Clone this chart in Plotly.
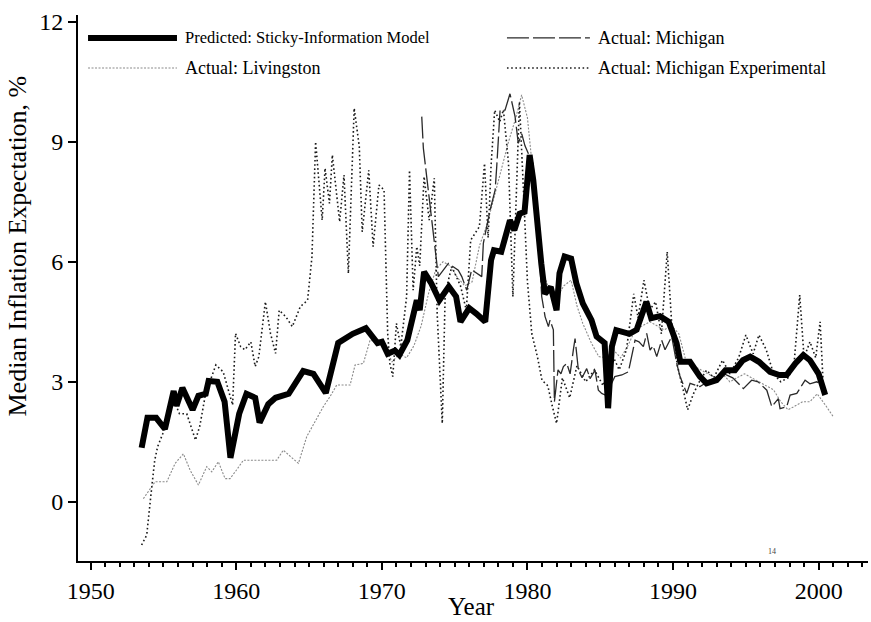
import plotly.graph_objects as go

# ---------------- data ----------------
sticky_years = [1953.5, 1953.9, 1954.5, 1955.1, 1955.7, 1955.9, 1956.3, 1957.0, 1957.4, 1957.9,
                1958.1, 1958.7, 1959.2, 1959.6, 1960.2, 1960.7, 1961.3, 1961.6, 1962.2, 1962.7,
                1963.6, 1964.6, 1965.3, 1966.15, 1967.0, 1967.5, 1968.0, 1968.9, 1969.7, 1970.0,
                1970.4, 1970.9, 1971.2, 1971.75, 1972.2, 1972.4, 1972.6, 1972.9, 1973.4, 1973.95,
                1974.6, 1975.1, 1975.4, 1976.0, 1976.5, 1977.1, 1977.5, 1977.7, 1978.2, 1978.5,
                1978.8, 1979.1, 1979.46, 1979.8, 1980.15, 1980.4, 1980.6, 1980.95, 1981.2, 1981.6,
                1982.0, 1982.2, 1982.55, 1983.0, 1983.36, 1983.8, 1984.4, 1984.75, 1985.3, 1985.54,
                1985.8, 1986.1, 1987.0, 1987.5, 1988.17, 1988.5, 1989.1, 1989.7, 1990.24, 1990.5,
                1991.16, 1991.85, 1992.3, 1992.99, 1993.6, 1994.25, 1994.8, 1995.3, 1995.9, 1996.66,
                1997.3, 1997.8, 1998.4, 1998.95, 1999.4, 2000.0, 2000.45]
sticky_vals = [1.35, 2.1, 2.1, 1.82, 2.77, 2.4, 2.85, 2.3, 2.65, 2.7,
               3.02, 3.0, 2.5, 1.1, 2.2, 2.7, 2.6, 1.98, 2.44, 2.6,
               2.7, 3.27, 3.2, 2.72, 3.97, 4.1, 4.2, 4.34, 3.97, 4.0,
               3.7, 3.78, 3.67, 4.04, 4.71, 5.04, 4.79, 5.75, 5.46, 5.04,
               5.38, 5.13, 4.5, 4.84, 4.7, 4.5, 6.04, 6.29, 6.25, 6.63,
               7.04, 6.79, 7.2, 7.25, 8.67, 8.04, 7.2, 5.96, 5.2, 5.37,
               4.79, 5.71, 6.13, 6.08, 5.46, 4.96, 4.54, 4.13, 3.97, 2.34,
               3.88, 4.29, 4.2, 4.3, 5.0, 4.59, 4.64, 4.5, 3.97, 3.5,
               3.5, 3.13, 2.96, 3.04, 3.29, 3.29, 3.54, 3.63, 3.5, 3.25,
               3.17, 3.17, 3.46, 3.67, 3.54, 3.2, 2.67]

mich_years = [1972.74, 1972.85, 1973.08, 1973.31, 1973.43, 1973.65, 1973.88, 1974.22, 1974.57, 1975.25,
              1975.49, 1975.83, 1976.17, 1976.86, 1976.97, 1977.43, 1977.78, 1977.89, 1978.12, 1978.46,
              1978.8, 1979.15, 1979.37, 1979.61, 1979.83, 1980.06, 1980.38, 1980.66, 1980.98, 1981.21,
              1981.44, 1981.55, 1981.78, 1981.85, 1982.1, 1982.3, 1982.47, 1982.7, 1982.93, 1983.15,
              1983.27, 1983.5, 1983.75, 1984.07, 1984.3, 1984.64, 1984.87, 1985.1, 1985.33, 1985.7,
              1986.0, 1986.48, 1986.93, 1987.39, 1987.66, 1987.96, 1988.19, 1988.42, 1988.63, 1988.88,
              1989.22, 1989.45, 1989.91, 1990.25, 1990.48, 1990.94, 1991.17, 1991.85, 1992.54, 1993.45,
              1994.1, 1994.83, 1995.4, 1995.84, 1996.44, 1996.78, 1997.23, 1997.35, 1997.81, 1998.04,
              1998.5, 1999.07, 1999.4, 1999.87, 2000.4]
mich_vals = [9.63, 8.84, 8.13, 7.38, 7.13, 6.29, 5.63, 5.79, 5.96, 5.79,
             5.63, 5.29, 5.8, 5.63, 6.46, 7.29, 7.79, 8.38, 9.79, 9.79,
             10.2, 9.63, 8.96, 9.2, 8.9, 8.71, 8.46, 7.2, 5.13, 4.63,
             4.38, 4.54, 4.3, 2.5, 3.3, 3.2, 3.38, 3.46, 3.2, 3.79,
             4.08, 3.29, 3.1, 3.33, 3.08, 3.29, 2.79, 2.71, 2.67, 2.9,
             3.13, 3.17, 3.25, 4.04, 4.0, 3.88, 4.21, 3.79, 3.9, 3.63,
             4.04, 3.8, 4.13, 3.46, 3.13, 2.71, 2.96, 2.88, 3.04, 3.21,
             3.1, 2.83, 3.04, 3.0, 2.79, 2.38, 2.58, 2.33, 2.38, 2.67,
             2.71, 3.04, 2.95, 3.0, 2.9]

liv_years = [1953.62, 1954.42, 1955.23, 1955.8, 1956.37, 1956.83, 1957.4, 1957.97, 1958.32, 1958.77,
             1959.23, 1959.57, 1960.03, 1960.49, 1961.63, 1962.78, 1963.23, 1964.27, 1964.84, 1965.3,
             1965.98, 1966.44, 1966.9, 1967.82, 1968.16, 1968.73, 1969.19, 1969.7, 1970.2, 1970.7,
             1971.2, 1971.7, 1972.2, 1972.7, 1973.2, 1973.7, 1974.2, 1974.7, 1975.2, 1975.7,
             1976.2, 1976.7, 1977.2, 1977.7, 1978.2, 1978.7, 1979.2, 1979.6, 1980.0, 1980.3,
             1980.7, 1981.1, 1981.5, 1982.0, 1982.5, 1983.0, 1983.4, 1983.8, 1984.4, 1984.9,
             1985.4, 1985.9, 1986.4, 1986.9, 1987.4, 1987.9, 1988.4, 1988.9, 1989.4, 1989.9,
             1990.4, 1990.9, 1991.4, 1991.9, 1992.4, 1992.9, 1993.4, 1993.9, 1994.4, 1994.9,
             1995.4, 1995.9, 1996.4, 1996.9, 1997.4, 1997.9, 1998.4, 1998.9, 1999.4, 1999.9,
             2000.5, 2001.0]
liv_vals = [0.08, 0.5, 0.5, 0.96, 1.2, 0.79, 0.42, 0.88, 0.75, 1.0,
            0.58, 0.58, 0.8, 1.04, 1.04, 1.04, 1.29, 0.96, 1.63, 1.92,
            2.38, 2.63, 2.92, 2.92, 3.42, 3.46, 4.04, 4.0, 3.9, 3.5,
            3.7, 3.6, 3.9, 4.4, 5.2, 5.8, 6.0, 5.9, 5.6, 5.4,
            5.5, 6.4, 6.9, 7.6, 8.3, 9.0, 9.6, 10.17, 9.6, 8.5,
            6.5, 5.7, 5.3, 5.1, 5.4, 5.54, 4.9, 4.46, 3.96, 3.63,
            3.6, 3.8, 3.6, 3.9, 4.3, 4.4, 4.5, 4.4, 4.3, 4.4,
            4.2, 3.5, 3.4, 3.3, 3.2, 3.1, 3.2, 3.0, 3.1, 3.2,
            3.1, 3.0, 2.9, 2.8, 2.5, 2.3, 2.4, 2.5, 2.5, 2.7,
            2.4, 2.13]

mexp_years = [1953.5, 1953.85, 1954.2, 1954.4, 1954.6, 1954.95, 1955.3, 1955.7, 1956.1, 1956.6,
              1957.2, 1957.5, 1957.9, 1958.6, 1959.1, 1959.5, 1959.75, 1959.95, 1960.3, 1960.6,
              1961.0, 1961.3, 1961.55, 1962.0, 1962.35, 1962.7, 1962.95, 1963.4, 1963.85, 1964.4,
              1964.9, 1965.2, 1965.45, 1965.9, 1966.1, 1966.4, 1966.6, 1967.1, 1967.4, 1967.7,
              1968.1, 1968.45, 1968.65, 1969.1, 1969.4, 1969.8, 1970.15, 1970.4, 1970.55, 1970.75,
              1971.0, 1971.3, 1971.7, 1971.9, 1972.15, 1972.4, 1972.6, 1972.9, 1973.25, 1973.6,
              1973.8, 1974.15, 1974.35, 1974.8, 1975.4, 1975.8, 1976.1, 1976.7, 1977.05, 1977.3,
              1977.5, 1977.75, 1978.1, 1978.35, 1978.7, 1979.0, 1979.2, 1979.45, 1979.7, 1980.0,
              1980.3, 1980.7, 1981.0, 1981.4, 1981.7, 1982.0, 1982.4, 1982.9, 1983.4, 1984.0,
              1984.6, 1985.2, 1985.8, 1986.3, 1986.8, 1987.3, 1987.6, 1988.0, 1988.4, 1988.8,
              1989.2, 1989.6, 1989.9, 1990.3, 1990.7, 1991.0, 1991.4, 1991.8, 1992.3, 1992.8,
              1993.4, 1993.9, 1994.5, 1995.0, 1995.5, 1995.9, 1996.4, 1996.9, 1997.4, 1997.9,
              1998.3, 1998.7, 1999.0, 1999.4, 1999.8, 2000.1, 2000.3]
mexp_vals = [-1.08, -0.83, 0.38, 1.04, 1.38, 1.7, 2.2, 2.55, 2.2, 2.2,
             1.54, 1.9, 2.72, 3.42, 3.25, 2.72, 2.42, 4.21, 3.88, 3.8,
             4.0, 3.38, 3.63, 5.0, 4.21, 3.71, 4.79, 4.63, 4.38, 4.88,
             5.04, 6.13, 9.0, 7.04, 8.34, 7.46, 8.67, 7.0, 8.17, 5.71,
             9.84, 8.88, 6.75, 8.29, 6.38, 7.92, 7.8, 4.21, 3.46, 3.13,
             4.46, 3.88, 5.13, 8.29, 5.29, 6.38, 5.9, 8.13, 7.04, 8.09,
             4.71, 1.96, 5.21, 5.88, 5.4, 4.79, 6.54, 6.88, 8.46, 6.6,
             8.4, 9.79, 9.5, 9.8, 8.46, 5.13, 7.5, 10.0, 8.0, 5.5,
             4.2, 3.6, 3.04, 2.9, 2.4, 1.96, 3.1, 2.6, 3.4, 3.0,
             3.3, 2.9, 3.7, 3.3, 3.8, 5.2, 4.6, 5.54, 4.8, 5.0,
             4.2, 6.25, 4.5, 3.4, 2.8, 2.3, 2.7, 3.0, 3.29, 3.1,
             3.54, 3.2, 3.6, 4.17, 3.7, 4.17, 3.8, 3.2, 3.0, 3.1,
             3.4, 5.17, 3.6, 4.0, 3.6, 4.5, 3.04]

x_tick_vals = [1950, 1960, 1970, 1980, 1990, 2000]
y_tick_vals = [0, 3, 6, 9, 12]

assert len(sticky_years) == len(sticky_vals)
assert len(mich_years) == len(mich_vals)
assert len(liv_years) == len(liv_vals)
assert len(mexp_years) == len(mexp_vals)

# ---------------- styles ----------------
FONT = "Liberation Serif, Times New Roman, serif"
styles = {
    "Predicted: Sticky-Information Model": dict(color="black", width=6, dash="solid"),
    "Actual: Michigan": dict(color="#2a2a2a", width=1.3, dash="22px,4px"),
    "Actual: Livingston": dict(color="#8a8a8a", width=1.1, dash="2px,1.5px"),
    "Actual: Michigan Experimental": dict(color="#1a1a1a", width=1.6, dash="1.6px,2.6px"),
}
legend_font_sizes = {
    "Predicted: Sticky-Information Model": 16.5,
    "Actual: Michigan": 18,
    "Actual: Livingston": 18,
    "Actual: Michigan Experimental": 18,
}

fig = go.Figure()
# draw order: thin series first, thick model on top
fig.add_trace(go.Scatter(x=liv_years, y=liv_vals, mode="lines",
                         line=styles["Actual: Livingston"], showlegend=False))
fig.add_trace(go.Scatter(x=mexp_years, y=mexp_vals, mode="lines",
                         line=styles["Actual: Michigan Experimental"], showlegend=False))
fig.add_trace(go.Scatter(x=mich_years, y=mich_vals, mode="lines",
                         line=styles["Actual: Michigan"], showlegend=False))
fig.add_trace(go.Scatter(x=sticky_years, y=sticky_vals, mode="lines",
                         line=styles["Predicted: Sticky-Information Model"], showlegend=False))

# ---------------- manual legend (paper coordinates) ----------------
legend_items = [
    ("Predicted: Sticky-Information Model", 0.0127, 0.1253, 0.958),
    ("Actual: Michigan", 0.543, 0.648, 0.958),
    ("Actual: Livingston", 0.0127, 0.1253, 0.903),
    ("Actual: Michigan Experimental", 0.543, 0.648, 0.903),
]
shapes = []
annotations = []
for name, x0, x1, yy in legend_items:
    st = styles[name]
    shapes.append(dict(type="line", xref="paper", yref="paper", x0=x0, x1=x1, y0=yy, y1=yy,
                       line=dict(color=st["color"], width=st["width"], dash=st["dash"])))
    annotations.append(dict(text=name, xref="paper", yref="paper", x=x1 + 0.0075, y=yy,
                            xanchor="left", yanchor="middle", showarrow=False,
                            font=dict(family=FONT, size=legend_font_sizes[name], color="black")))

annotations.append(dict(text="Median Inflation Expectation, %", xref="paper", yref="paper",
                        x=-0.0765, y=0.577, textangle=-90, showarrow=False,
                        xanchor="center", yanchor="middle",
                        font=dict(family=FONT, size=26, color="black")))
annotations.append(dict(text="Year", xref="paper", yref="paper", x=0.4975, y=-0.084,
                        showarrow=False, xanchor="center", yanchor="middle",
                        font=dict(family=FONT, size=25, color="black")))
# small stray mark printed inside the reference plot
annotations.append(dict(text="14", xref="paper", yref="paper", x=0.878, y=0.017,
                        showarrow=False, xanchor="center", yanchor="middle",
                        font=dict(family=FONT, size=8, color="#444444")))

fig.update_layout(
    width=871, height=622,
    margin=dict(l=78, r=3, t=15, b=61, autoexpand=False),
    paper_bgcolor="white", plot_bgcolor="white",
    font=dict(family=FONT, size=24, color="black"),
    shapes=shapes, annotations=annotations,
    showlegend=False,
)
fig.update_xaxes(
    range=[1949.13, 2003.39], showgrid=False, zeroline=False, automargin=False,
    showline=True, linecolor="black", linewidth=2,
    tickmode="array", tickvals=x_tick_vals, ticktext=[str(v) for v in x_tick_vals],
    ticks="outside", ticklen=7, tickwidth=2, tickcolor="black",
    minor=dict(dtick=1, tick0=1950, ticks="outside", ticklen=4, tickwidth=1.5, tickcolor="black"),
    tickfont=dict(family=FONT, size=24),
)
fig.update_yaxes(
    range=[-1.48, 12.17], showgrid=False, zeroline=False, automargin=False,
    showline=True, linecolor="black", linewidth=2,
    tickmode="array", tickvals=y_tick_vals, ticktext=[str(v) for v in y_tick_vals],
    ticks="outside", ticklen=8, tickwidth=2, tickcolor="black",
    tickfont=dict(family=FONT, size=24),
)

# remove the browser's default 8px body margin so the figure fills the window
fig.write_html("out.html",
               config={"displayModeBar": False},
               post_script="document.body.style.margin='0';document.body.style.padding='0';")
